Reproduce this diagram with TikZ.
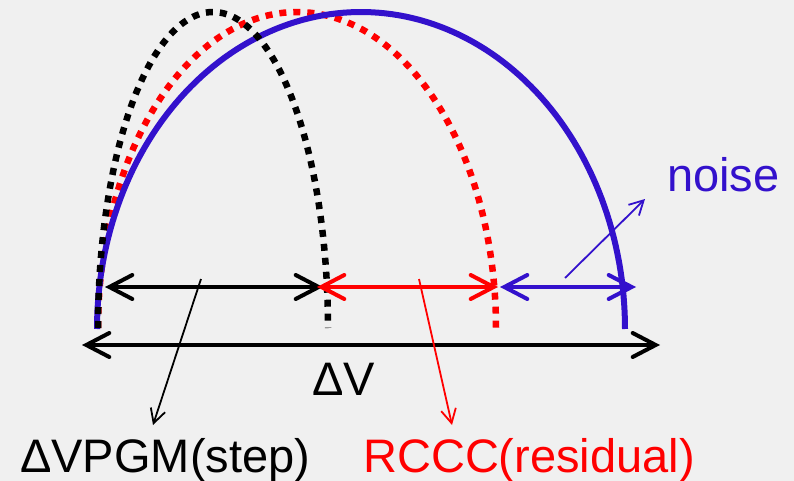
\documentclass[tikz,border=0pt]{standalone}
\usepackage{fontspec}
\setmainfont{Liberation Sans}
\usetikzlibrary{arrows.meta}
\definecolor{bg}{RGB}{240,240,240}
\definecolor{nblue}{RGB}{51,17,204}
\definecolor{nred}{RGB}{255,0,0}
\begin{document}
\begin{tikzpicture}[x=1pt,y=-1pt,
  dotcurve/.style={line width=6.5pt,dash pattern=on 7pt off 7pt,line cap=butt},
  solidcurve/.style={line width=6pt},
  dbl/.style={line width=4pt,{Straight Barb[length=23pt,width=24pt,line cap=round]}-{Straight Barb[length=23pt,width=24pt,line cap=round]}},
  ptr/.style={line width=1.8pt,-{Straight Barb[length=14pt,width=15pt]}},
  lab/.style={font=\fontsize{47}{56}\selectfont,inner sep=0pt,anchor=base west}]
\fill[bg] (0,0) rectangle (794,481);
\useasboundingbox (0,0) rectangle (794,481);
% curves
\draw[nred,dotcurve] plot[domain=180:0,samples=120] ({297+199*cos(\x)},{328-316*sin(\x)});
\draw[nblue,solidcurve] plot[domain=180:0,samples=120] ({361+264*cos(\x)},{329-317*sin(\x)});
\draw[black,dotcurve] plot[domain=180:0,samples=120] ({213+115*cos(\x)},{328-316*sin(\x)});
% coordinates
\coordinate (bl) at (105,287);
\coordinate (br) at (323,287);
\coordinate (rl) at (317,287);
\coordinate (rr) at (498,287);
\coordinate (ul) at (500,287);
\coordinate (ur) at (636,287);
\coordinate (dl) at (82,345);
\coordinate (dr) at (660,345);
\coordinate (pb0) at (201,279);
\coordinate (pb1) at (153,425);
\coordinate (pr0) at (419,279);
\coordinate (pr1) at (452,425);
\coordinate (pn0) at (565,278);
\coordinate (pn1) at (645,199);
% double arrows
\draw[dbl,black] (bl) -- (br);
\draw[dbl,nblue] (ul) -- (ur);
\draw[dbl,nred] (rl) -- (rr);
\draw[dbl,black] (dl) -- (dr);
% pointers
\draw[ptr,black] (pb0) -- (pb1);
\draw[ptr,nred] (pr0) -- (pr1);
\draw[ptr,nblue] (pn0) -- (pn1);
% labels
\node[lab] (dv) at (312,395) {ΔV};
\node[lab] (pgm) at (20,472) {ΔVPGM(step)};
\node[lab,text=nred] (rccc) at (363,472) {RCCC(residual)};
\node[lab,text=nblue] (noise) at (667,191) {noise};
\end{tikzpicture}
\end{document}
